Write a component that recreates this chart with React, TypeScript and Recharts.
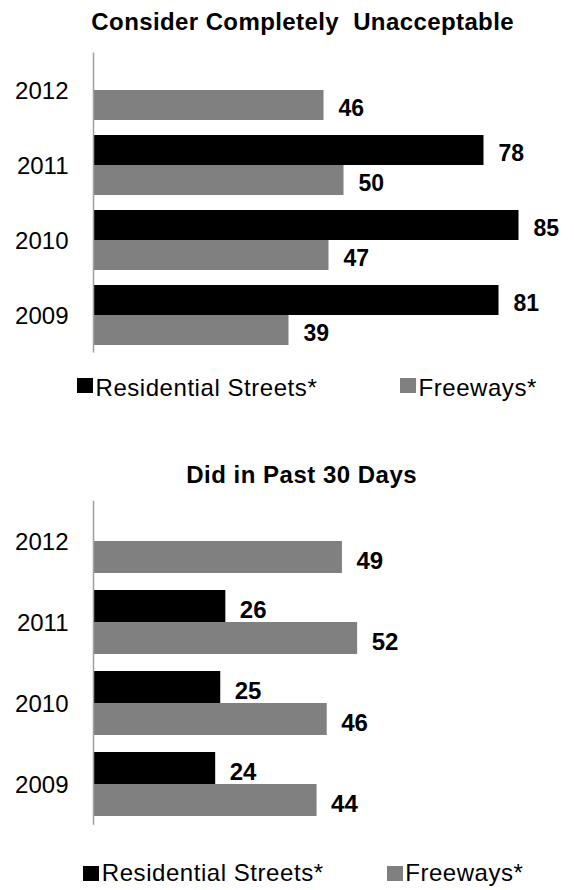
import React from 'react';
import { BarChart, Bar, XAxis, YAxis, LabelList } from 'recharts';

const years = ['2012', '2011', '2010', '2009'];
const seriesNames = ['Residential Streets*', 'Freeways*'];
const unacceptableResidential: (number | null)[] = [null, 78, 85, 81];
const unacceptableFreeways = [46, 50, 47, 39];
const past30Residential: (number | null)[] = [null, 26, 25, 24];
const past30Freeways = [49, 52, 46, 44];
const titles = ['Consider Completely  Unacceptable', 'Did in Past 30 Days'];

const FONT = '"Liberation Sans", Arial, Helvetica, sans-serif';
const BLACK = '#000000';
const GRAY = '#808080';

const makeData = (res: (number | null)[], fwy: number[]) =>
  years.map((y, i) => ({ year: y, res: res[i], fwy: fwy[i] }));

const dataTop = makeData(unacceptableResidential, unacceptableFreeways);
const dataBottom = makeData(past30Residential, past30Freeways);

const makeLabel = (offset: number, extraDy: number, fontSize: number) => (props: any) => {
  const { x, y, width, height, value } = props;
  if (value === null || value === undefined) return <g />;
  const cx = Number(x) + Number(width) + offset;
  const cy = Number(y) + Number(height) / 2 + extraDy + 0.358 * fontSize;
  return (
    <text x={cx} y={cy} fill="#000" fontFamily={FONT} fontWeight="bold" fontSize={fontSize}>
      {value}
    </text>
  );
};

type ChartCfg = {
  top: number;
  height: number;
  margin: { top: number; right: number; bottom: number; left: number };
  data: any[];
  labelOffset: number;
  labelDy: number;
  labelSize: number;
};

const Chart = ({ cfg }: { cfg: ChartCfg }) => (
  <div style={{ position: 'absolute', left: 0, top: cfg.top }}>
    <BarChart
      width={574}
      height={cfg.height}
      data={cfg.data}
      layout="vertical"
      margin={cfg.margin}
      barCategoryGap="10%"
      barGap={0}
    >
      <XAxis type="number" domain={[0, 90]} hide />
      <YAxis
        type="category"
        dataKey="year"
        width={93.5}
        axisLine={{ stroke: '#a0a0a0', strokeWidth: 1.5 }}
        tickLine={false}
        tickSize={0}
        tickMargin={25}
        tick={{ fill: '#000', fontSize: 24, fontFamily: FONT }}
      />
      <Bar dataKey="res" name={seriesNames[0]} fill={BLACK} isAnimationActive={false}>
        <LabelList dataKey="res" content={makeLabel(cfg.labelOffset, cfg.labelDy, cfg.labelSize)} />
      </Bar>
      <Bar dataKey="fwy" name={seriesNames[1]} fill={GRAY} isAnimationActive={false}>
        <LabelList dataKey="fwy" content={makeLabel(cfg.labelOffset, cfg.labelDy, cfg.labelSize)} />
      </Bar>
    </BarChart>
  </div>
);

const Title = ({ text, top, cx, spacing }: { text: string; top: number; cx: number; spacing: number }) => (
  <div
    style={{
      position: 'absolute',
      left: cx,
      top,
      transform: 'translateX(-50%)',
      whiteSpace: 'pre',
      fontFamily: FONT,
      fontWeight: 'bold',
      fontSize: 24,
      lineHeight: '24px',
      letterSpacing: spacing,
      color: '#000',
    }}
  >
    {text}
  </div>
);

const LegendRow = ({ xs, sqTop, textTop }: { xs: number[]; sqTop: number; textTop: number }) => (
  <>
    {seriesNames.map((n, i) => (
      <React.Fragment key={n}>
        <div
          style={{
            position: 'absolute',
            left: xs[i],
            top: sqTop,
            width: 16,
            height: 15,
            background: i === 0 ? BLACK : GRAY,
          }}
        />
        <div
          style={{
            position: 'absolute',
            left: xs[i] + 18.5,
            top: textTop,
            whiteSpace: 'pre',
            fontFamily: FONT,
            fontSize: 24,
            lineHeight: '24px',
            letterSpacing: 0.55,
            color: '#000',
          }}
        >
          {n}
        </div>
      </React.Fragment>
    ))}
  </>
);

const topCfg: ChartCfg = {
  top: 0,
  height: 420,
  margin: { top: 52.5, right: 30.5, bottom: 67.5, left: 0 },
  data: dataTop,
  labelOffset: 15,
  labelDy: 3,
  labelSize: 23,
};

const bottomCfg: ChartCfg = {
  top: 440,
  height: 450,
  margin: { top: 60.8, right: 24.2, bottom: 65.2, left: 0 },
  data: dataBottom,
  labelOffset: 14.5,
  labelDy: 3.5,
  labelSize: 24,
};

export default function App() {
  return (
    <div style={{ position: 'absolute', left: 0, top: 0, width: 574, height: 890, background: '#fff', overflow: 'hidden' }}>
      <Title text={titles[0]} top={10.4} cx={302.7} spacing={0.4} />
      <Chart cfg={topCfg} />
      <LegendRow xs={[77, 400]} sqTop={378.3} textTop={376.3} />
      <Title text={titles[1]} top={463} cx={301.7} spacing={0.5} />
      <Chart cfg={bottomCfg} />
      <LegendRow xs={[83.3, 386.7]} sqTop={866} textTop={861} />
    </div>
  );
}
